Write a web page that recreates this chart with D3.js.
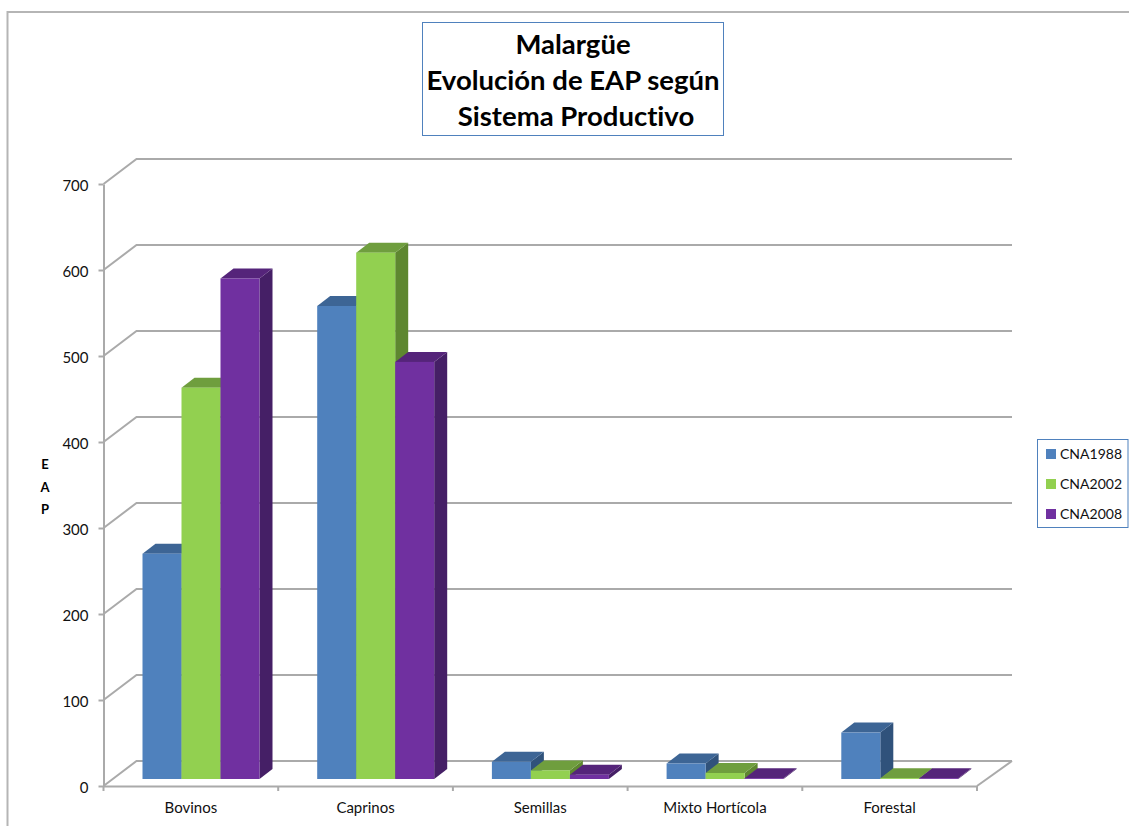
<!DOCTYPE html>
<html><head><meta charset="utf-8">
<script src="https://cdn.jsdelivr.net/npm/d3@7/dist/d3.min.js"></script>
<style>html,body{margin:0;padding:0;background:#fff}svg{display:block}text{font-family:Lato,"Open Sans",sans-serif;fill:#111;font-variant-ligatures:none;font-feature-settings:"liga" 0}</style>
</head><body><svg id="c" width="1129" height="826"></svg>
<script>
const categories = ["Bovinos","Caprinos","Semillas","Mixto Hortícola","Forestal"];
const seriesNames = ["CNA1988","CNA2002","CNA2008"];
const cna1988 = [262,550,20,18,54];
const cna2002 = [455,612,10,7,1];
const cna2008 = [582,485,5,1,1];
const seriesValues = [cna1988,cna2002,cna2008];
const yTicks = [0,100,200,300,400,500,600,700];
const titleLines = ["Malargüe","Evolución de EAP según","Sistema Productivo"];
const axisLabel = ["E","A","P"];
const faceColors = ["#4f81bd","#92d050","#7030a0"];
const topColors = ["#3d6595","#6f9e3e","#55247a"];
const sideColors = ["#30527b","#5e8730","#451f66"];

const GRID="#aaaaaa";
const svg=d3.select("#c");
const x=d3.scaleBand().domain(categories).range([103.5,977]);
const y=d3.scaleLinear().domain([0,700]).range([786,184]);
const bar=d3.scaleBand().domain(d3.range(3)).range([39,156]);
const wallDX=33, wallDY=25, barLift=7, depthX=13, depthY=10;

// frame
svg.append("path").attr("d","M7.5,826V12H1129").attr("fill","none").attr("stroke","#b5b5b5").attr("stroke-width",2);

// back wall gridlines and left wall diagonals
const grid=svg.append("g").attr("fill","none").attr("stroke",GRID).attr("stroke-width",2);
yTicks.forEach(v=>{
  grid.append("path").attr("d",d3.line()([[103.5,y(v)],[103.5+wallDX,y(v)-wallDY],[977+wallDX+2,y(v)-wallDY]]));
});
grid.append("path").attr("d",d3.line()([[977,y(0)],[977+wallDX+2,y(0)-wallDY]]));

// axes
const gy=svg.append("g").attr("transform","translate(103.5,0)").call(d3.axisLeft(y).tickValues(yTicks).tickSize(5).tickPadding(10).tickSizeOuter(0));
const gx=svg.append("g").attr("transform","translate(0,"+y(0)+")").call(d3.axisBottom(x).tickSize(0).tickPadding(16));
gx.selectAll(".tick").append("line").attr("x1",x.bandwidth()/2).attr("x2",x.bandwidth()/2).attr("y2",5);
gx.append("line").attr("x1",103.5).attr("x2",103.5).attr("y2",5);
[gx,gy].forEach(g=>{
  g.selectAll("line,path").attr("stroke",GRID).attr("stroke-width",2);
  g.selectAll("text").attr("font-size",15).style("font-family","Lato").attr("fill","#111");
  g.attr("font-family",null);
});
gy.selectAll("text").attr("dy","0.42em");

// bars
categories.forEach((c,ci)=>{
  seriesValues.forEach((vals,si)=>{
    const x0=x(c)+bar(si), x1=x0+bar.bandwidth();
    const base=y(0)-barLift, top=base-(y(0)-y(vals[ci]));
    const g=svg.append("g");
    g.append("path").attr("fill",sideColors[si]).attr("d",d3.line()([[x1,top],[x1+depthX,top-depthY],[x1+depthX,base-depthY],[x1,base]])+"Z");
    g.append("path").attr("fill",topColors[si]).attr("d",d3.line()([[x0,top],[x0+depthX,top-depthY],[x1+depthX,top-depthY],[x1,top]])+"Z");
    g.append("rect").attr("x",x0).attr("y",top).attr("width",x1-x0).attr("height",base-top).attr("fill",faceColors[si]);
  });
});

// title
svg.append("rect").attr("x",422.5).attr("y",22.5).attr("width",301).attr("height",113).attr("fill","#fff").attr("stroke","#4f81bd");
const titleX=[573,573,576];
titleLines.forEach((t,i)=>svg.append("text").attr("x",titleX[i]).attr("y",54+i*36).attr("text-anchor","middle").attr("font-size",27.5).attr("font-weight",700).style("fill","#000").text(t));

// y axis title
axisLabel.forEach((t,i)=>svg.append("text").attr("x",45).attr("y",469+i*22.5).attr("text-anchor","middle").attr("font-size",13).attr("font-weight",700).style("fill","#000").text(t));

// legend
svg.append("rect").attr("x",1037.5).attr("y",439.5).attr("width",90.5).attr("height",88).attr("fill","#fff").attr("stroke","#4f81bd");
seriesNames.forEach((s,i)=>{
  const ly=454+i*30;
  svg.append("rect").attr("x",1046).attr("y",ly-5).attr("width",10).attr("height",10).attr("fill",faceColors[i]);
  svg.append("text").attr("x",1060).attr("y",ly+4.5).attr("font-size",14).text(s);
});
</script></body></html>
